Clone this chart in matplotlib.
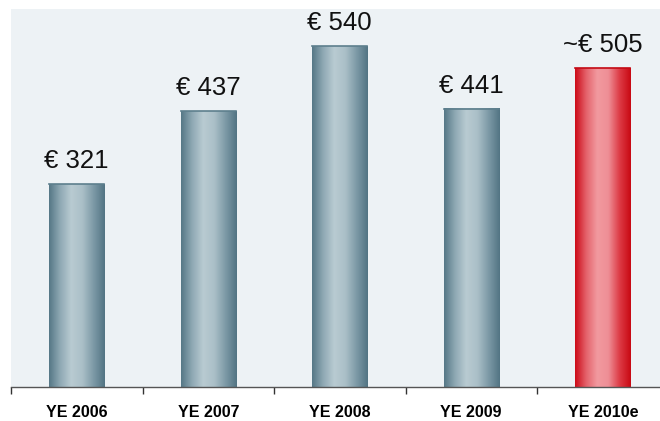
import numpy as np
import matplotlib.pyplot as plt
from matplotlib.colors import LinearSegmentedColormap

years = ["YE 2006", "YE 2007", "YE 2008", "YE 2009", "YE 2010e"]
values = [321, 437, 540, 441, 505]
labels = ["€ 321", "€ 437", "€ 540", "€ 441", "~€ 505"]
estimate = [False, False, False, False, True]

plt.rcParams['font.family'] = ['Liberation Sans', 'DejaVu Sans']

blue = LinearSegmentedColormap.from_list(
    "blue", ["#557786", "#8fa9b4", "#b9cbd2", "#aabfc7", "#7c99a6", "#527483"])
red = LinearSegmentedColormap.from_list(
    "red", ["#cc0a17", "#e4626b", "#f29aa0", "#ee8e95", "#dd3a45", "#c80812"])

fig = plt.figure(figsize=(6.6, 4.21), dpi=100)
ax = fig.add_axes([11 / 660, 34 / 421, 657.5 / 660, 378 / 421])
ax.set_facecolor("#edf2f5")

x = np.arange(len(years))
w = 0.42
grad = np.linspace(0, 1, 256).reshape(1, -1)
for xi, v, lab, est in zip(x, values, labels, estimate):
    cmap = red if est else blue
    ax.imshow(grad, cmap=cmap, aspect="auto", interpolation="bicubic",
              extent=(xi - w / 2, xi + w / 2, 0, v), zorder=2)
    edge = "#c40a14" if est else "#5d7f8d"
    ax.plot([xi - w / 2, xi + w / 2], [v, v], color=edge, lw=1.2, zorder=3)
    ax.annotate(lab, (xi, v), xytext=(0, 8), textcoords="offset points",
                ha="center", va="bottom", fontsize=18.5, color="#111111")

ax.set_xlim(-0.5, 4.5)
ax.set_ylim(0, 599)
ax.set_xticks(x)
ax.set_xticklabels(years, fontsize=11.5, fontweight="bold")
ax.tick_params(axis="x", which="major", length=0, pad=13)
ax.set_xticks(np.arange(-0.5, 5, 1), minor=True)
ax.tick_params(axis="x", which="minor", length=5, width=1, color="#333333")
ax.set_yticks([])
for s in ["left", "right", "top"]:
    ax.spines[s].set_visible(False)
ax.spines["bottom"].set_color("#555555")
ax.spines["bottom"].set_linewidth(1)

fig.savefig("out.png", dpi=100)
